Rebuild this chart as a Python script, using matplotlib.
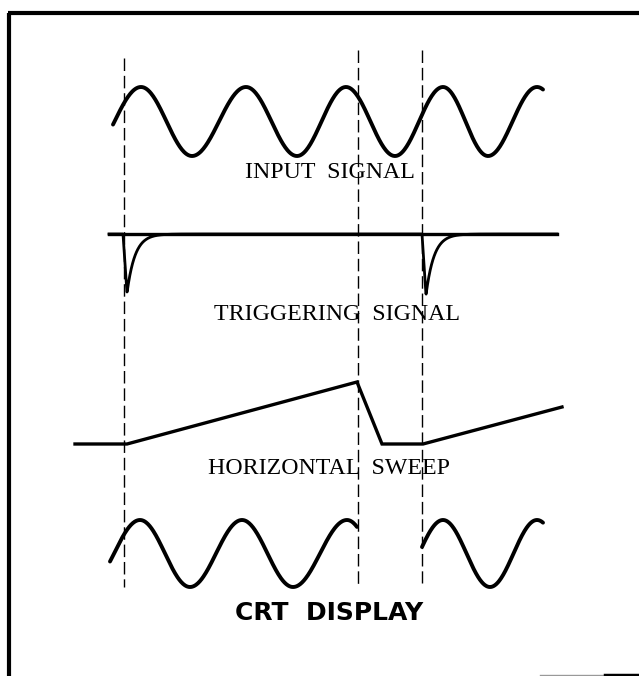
import numpy as np
import matplotlib.pyplot as plt

# everything in picture pixels (x right, y down)
W, H = 639, 676

# dashed marker lines: x, top, bottom
mark_x = [124, 358, 422]
mark_top = [58, 50, 50]
mark_bot = [587, 587, 583]

# input signal: x of the extrema (trough, peak, trough, ...)
input_ext_x = [88, 141, 192, 246, 297, 346, 395, 443, 488, 537]
input_peak_y, input_trough_y = 87, 156
input_span = (113, 543)

# triggering signal
trig_base_y = 234
trig_span = (109, 557)
trig_pulse_x = [123, 422]
trig_pulse_depth = [59, 61]

# horizontal sweep corner points
sweep_x = [75, 127, 357, 382, 423, 562]
sweep_y = [444, 444, 382, 444, 444, 407]

# crt display: same wave, only the traced parts
crt_ext_x = [88, 140, 190, 242, 293, 347, 395, 443, 490, 537]
crt_peak_y, crt_trough_y = 520, 587
crt_spans = [(110, 357), (422, 543)]

labels = ['INPUT  SIGNAL', 'TRIGGERING  SIGNAL', 'HORIZONTAL  SWEEP']
label_x = [330, 337, 329]
label_y = [172, 315, 468]


def wave(xs, ext_x, peak_y, trough_y):
    ext_y = [trough_y if i % 2 == 0 else peak_y for i in range(len(ext_x))]
    ys = []
    for x in xs:
        i = np.searchsorted(ext_x, x) - 1
        i = min(max(i, 0), len(ext_x) - 2)
        t = (x - ext_x[i]) / (ext_x[i+1] - ext_x[i])
        ys.append(ext_y[i] + (ext_y[i+1] - ext_y[i]) * (1 - np.cos(np.pi * t)) / 2)
    return np.array(ys)


fig = plt.figure(figsize=(W/100, H/100), dpi=100)
ax = fig.add_axes([0, 0, 1, 1])
ax.set_xlim(0, W)
ax.set_ylim(H, 0)
ax.axis('off')

# frame
ax.plot([8, W], [13, 13], color='black', lw=3, solid_capstyle='butt')
ax.plot([9, 9], [13, H], color='black', lw=3, solid_capstyle='butt')
ax.plot([540, 605], [675, 675], color='#999999', lw=1)
ax.plot([605, W], [675, 675], color='black', lw=2.5)

for x, t, b in zip(mark_x, mark_top, mark_bot):
    ax.plot([x, x], [t, b], color='black', lw=1, dashes=(9, 3.5))

xs = np.linspace(input_span[0], input_span[1], 600)
ax.plot(xs, wave(xs, input_ext_x, input_peak_y, input_trough_y),
        color='black', lw=2.8, solid_capstyle='round')

# triggering signal
xs = np.linspace(trig_span[0], trig_span[1], 2000)
ys = np.full_like(xs, trig_base_y, dtype=float)
for p, d in zip(trig_pulse_x, trig_pulse_depth):
    drop = (xs >= p) & (xs < p + 4)
    ys[drop] = trig_base_y + d * (xs[drop] - p) / 4
    rec = xs >= p + 4
    ys[rec] = np.maximum(ys[rec] - trig_base_y,
                         d * np.exp(-(xs[rec] - p - 4) / 8)) + trig_base_y
ax.plot(xs, ys, color='black', lw=2.0)
ax.plot(trig_span, [trig_base_y, trig_base_y], color='black', lw=2.4)

ax.plot(sweep_x, sweep_y, color='black', lw=2.4, solid_joinstyle='miter')

for a, b in crt_spans:
    xs = np.linspace(a, b, 400)
    ax.plot(xs, wave(xs, crt_ext_x, crt_peak_y, crt_trough_y),
            color='black', lw=2.8, solid_capstyle='round')

for s, x, y in zip(labels, label_x, label_y):
    ax.text(x, y, s, family='Liberation Serif', fontsize=17.2,
            ha='center', va='center', color='black')

ax.text(329, 613, 'CRT  DISPLAY', family='DejaVu Sans', fontweight='bold',
        fontsize=18, ha='center', va='center', color='black')

fig.savefig('out.png', dpi=100)
